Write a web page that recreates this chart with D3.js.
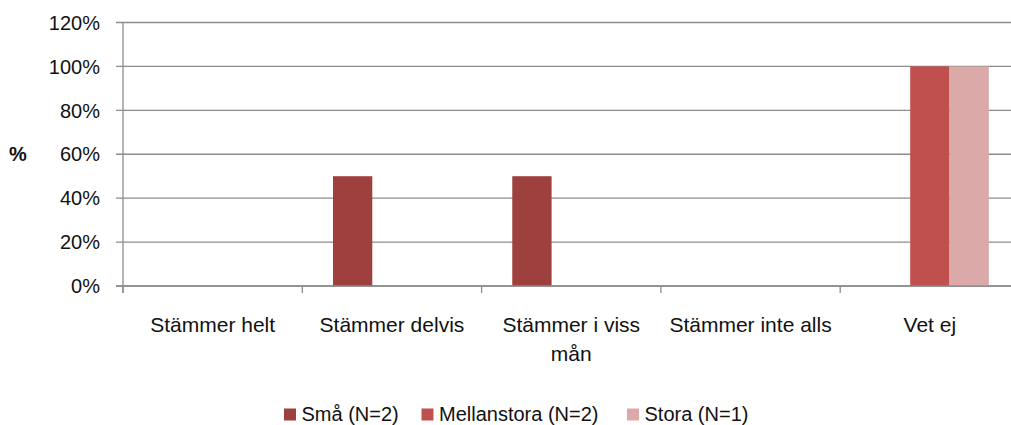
<!DOCTYPE html>
<html>
<head>
<meta charset="utf-8">
<script src="https://cdn.jsdelivr.net/npm/d3@7"></script>
<style>
  body { margin: 0; background: #fff; }
  svg { display: block; font-family: "Liberation Sans", Arial, sans-serif; }
</style>
</head>
<body>
<div id="chart"></div>
<script>
// data
const categories = ["Stämmer helt", "Stämmer delvis", "Stämmer i viss mån", "Stämmer inte alls", "Vet ej"];
const seriesNames = ["Små (N=2)", "Mellanstora (N=2)", "Stora (N=1)"];
const sma = [0, 0.5, 0.5, 0, 0];
const mellanstora = [0, 0, 0, 0, 1];
const stora = [0, 0, 0, 0, 1];
const yTicks = [0, 0.2, 0.4, 0.6, 0.8, 1.0, 1.2];
const colors = ["#9e413e", "#c0504d", "#daa9a8"];

const values = [sma, mellanstora, stora];

const width = 1011, height = 425;
const svg = d3.select("#chart").append("svg")
    .attr("width", width)
    .attr("height", height);

const x0 = d3.scaleBand()
    .domain(categories)
    .range([123, 1019.5])
    .padding(0);

const x1 = d3.scaleBand()
    .domain(seriesNames)
    .range([0, x0.bandwidth()])
    .paddingInner(0)
    .paddingOuter(0.78);

const y = d3.scaleLinear()
    .domain([0, 1.2])
    .range([286, 22.5]);

const gridColor = "#8c8c8c";

// gridlines + y ticks
svg.append("g")
    .selectAll("line")
    .data(yTicks)
    .join("line")
    .attr("x1", 116)
    .attr("x2", width)
    .attr("y1", d => y(d))
    .attr("y2", d => y(d))
    .attr("stroke", gridColor)
    .attr("stroke-width", 1.3);

svg.append("g")
    .selectAll("text")
    .data(yTicks)
    .join("text")
    .attr("x", 100)
    .attr("y", d => y(d))
    .attr("dy", "0.36em")
    .attr("text-anchor", "end")
    .attr("font-size", 20)
    .attr("fill", "#111")
    .text(d => Math.round(d * 100) + "%");

// y axis line
svg.append("line")
    .attr("x1", 123).attr("x2", 123)
    .attr("y1", y(1.2)).attr("y2", 293)
    .attr("stroke", gridColor)
    .attr("stroke-width", 1.3);

svg.append("text")
    .attr("x", 18)
    .attr("y", y(0.6))
    .attr("dy", "0.36em")
    .attr("text-anchor", "middle")
    .attr("font-size", 20)
    .attr("font-weight", "bold")
    .attr("fill", "#111")
    .text("%");

// bars
const groups = svg.append("g")
    .selectAll("g")
    .data(categories)
    .join("g")
    .attr("transform", d => `translate(${x0(d)},0)`);

groups.selectAll("rect")
    .data((d, i) => seriesNames.map((s, j) => ({ s, v: values[j][i], c: colors[j] })))
    .join("rect")
    .attr("x", d => x1(d.s))
    .attr("width", x1.bandwidth())
    .attr("y", d => y(d.v))
    .attr("height", d => y(0) - y(d.v))
    .attr("fill", d => d.c);

// x axis baseline + ticks
svg.append("line")
    .attr("x1", 116).attr("x2", width)
    .attr("y1", y(0)).attr("y2", y(0))
    .attr("stroke", gridColor)
    .attr("stroke-width", 1.3);

svg.append("g")
    .selectAll("line")
    .data(categories.concat(["end"]))
    .join("line")
    .attr("x1", (d, i) => x0.range()[0] + i * x0.step())
    .attr("x2", (d, i) => x0.range()[0] + i * x0.step())
    .attr("y1", y(0))
    .attr("y2", 293)
    .attr("stroke", gridColor)
    .attr("stroke-width", 1.3);

// category labels (wrapped like the original)
const catLines = {
  "Stämmer i viss mån": ["Stämmer i viss", "mån"]
};
svg.append("g")
    .selectAll("text")
    .data(categories)
    .join("text")
    .attr("x", d => x0(d) + x0.bandwidth() / 2)
    .attr("y", 331.5)
    .attr("text-anchor", "middle")
    .attr("font-size", 21)
    .attr("fill", "#111")
    .each(function(d) {
      const lines = catLines[d] || [d];
      const t = d3.select(this);
      lines.forEach((ln, k) => {
        t.append("tspan")
          .attr("x", x0(d) + x0.bandwidth() / 2)
          .attr("dy", k === 0 ? 0 : 29)
          .text(ln);
      });
    });

// legend
const legendX = [284, 421.5, 627];
const legend = svg.append("g")
    .selectAll("g")
    .data(seriesNames)
    .join("g")
    .attr("transform", (d, i) => `translate(${legendX[i]},0)`);

legend.append("rect")
    .attr("x", 0)
    .attr("y", 408.5)
    .attr("width", 12)
    .attr("height", 12)
    .attr("fill", (d, i) => colors[i]);

legend.append("text")
    .attr("x", 17.5)
    .attr("y", 421)
    .attr("font-size", 20)
    .attr("fill", "#111")
    .text(d => d);
</script>
</body>
</html>
